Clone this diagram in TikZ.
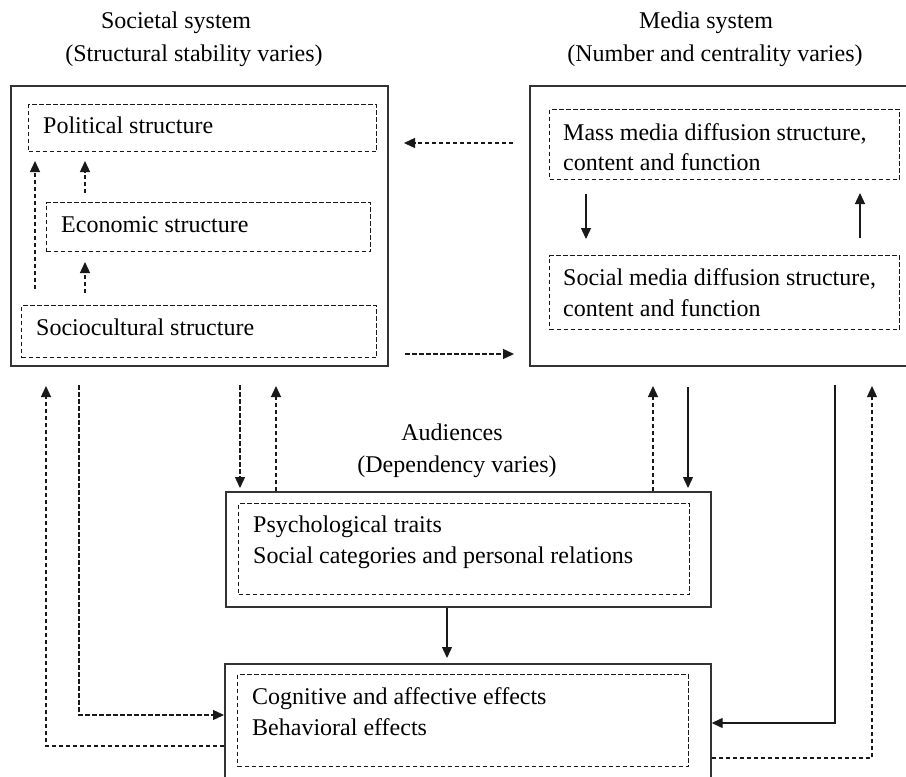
\documentclass[tikz,border=0pt]{standalone}
\usepackage{fontspec}
\setmainfont{Liberation Serif}
\usetikzlibrary{arrows.meta}
\begin{document}
\begin{tikzpicture}[x=1pt,y=-1pt,
  txt/.style={inner sep=0pt, anchor=base west, font=\fontsize{24}{30}\selectfont},
  ttl/.style={inner sep=0pt, anchor=base, font=\fontsize{24}{30}\selectfont},
  outerbox/.style={draw=black!80, line width=1.7pt, inner sep=0pt, anchor=north west},
  dbox/.style={draw=black!90, line width=1.3pt, dash pattern=on 4.5pt off 2.5pt, inner sep=0pt, anchor=north west},
  conn/.style={draw=black!90, line width=1.3pt, -{Triangle[length=11pt,width=10pt]}},
  dconn/.style={conn, dash pattern=on 4.5pt off 2.5pt},
]
\clip (0,0) rectangle (906,777);
\fill[white] (0,0) rectangle (906,777);

% boxes
\node[outerbox, minimum width=377pt, minimum height=280pt] (soc) at (10,85) {};
\node[dbox, minimum width=348pt, minimum height=47pt] (pol) at (28,104) {};
\node[dbox, minimum width=324pt, minimum height=49pt] (eco) at (46,202) {};
\node[dbox, minimum width=355pt, minimum height=52pt] (scu) at (21,305) {};
\node[outerbox, minimum width=400pt, minimum height=280pt] (med) at (529,85) {};
\node[dbox, minimum width=350pt, minimum height=70pt] (mass) at (549,109) {};
\node[dbox, minimum width=350pt, minimum height=74pt] (socm) at (549,255) {};
\node[outerbox, minimum width=485pt, minimum height=115pt] (aud) at (225,491) {};
\node[dbox, minimum width=451pt, minimum height=91pt] (audin) at (238,503) {};
\node[outerbox, minimum width=486pt, minimum height=130pt] (eff) at (224,663) {};
\node[dbox, minimum width=451pt, minimum height=92pt] (effin) at (237,674) {};

% titles
\node[ttl] (t1) at (176,28) {Societal system};
\node[ttl] (t2) at (194,61) {(Structural stability varies)};
\node[ttl] (t3) at (706,28) {Media system};
\node[ttl] (t4) at (715,61) {(Number and centrality varies)};
\node[ttl] (t5) at (452,440) {Audiences};
\node[ttl] (t6) at (457,472) {(Dependency varies)};

% texts
\node[txt] (p) at (43,133) {Political structure};
\node[txt] (e) at (61,232) {Economic structure};
\node[txt] (s) at (36,335) {Sociocultural structure};
\node[txt] (m1) at (563,140) {Mass media diffusion structure,};
\node[txt] (m2) at (563,170) {content and function};
\node[txt] (sm1) at (563,285) {Social media diffusion structure,};
\node[txt] (sm2) at (563,316) {content and function};
\node[txt] (a1) at (253,532) {Psychological traits};
\node[txt] (a2) at (253,563) {Social categories and personal relations};
\node[txt] (c1) at (252,704) {Cognitive and affective effects};
\node[txt] (c2) at (252,735) {Behavioral effects};

% free ends
\coordinate (k1s) at (35,289);  \coordinate (k1e) at (35,161);
\coordinate (k2s) at (85,193);  \coordinate (k2e) at (85,161);
\coordinate (k3s) at (85,293);  \coordinate (k3e) at (85,262);
\coordinate (k4s) at (513,143); \coordinate (k4e) at (404,143);
\coordinate (k5s) at (405,354); \coordinate (k5e) at (514,354);
\coordinate (k6s) at (586,194); \coordinate (k6e) at (586,239);
\coordinate (k7s) at (860,238); \coordinate (k7e) at (860,193);
\coordinate (k8s) at (240,385); \coordinate (k8e) at (240,488);
\coordinate (k9e) at (276,386);
\coordinate (k10e) at (653,386);
\coordinate (k11s) at (688,387); \coordinate (k11e) at (688,488);
\coordinate (k12s) at (79,385); \coordinate (k12m) at (79,715);
\coordinate (k13m) at (46,746); \coordinate (k13e) at (46,386);
\coordinate (k14s) at (835,385); \coordinate (k14m) at (835,723);
\coordinate (k15m) at (872,758); \coordinate (k15e) at (872,386);
\coordinate (k16e) at (447,658);

% connectors
\draw[dconn] (k1s) -- (k1e);
\draw[dconn] (k2s) -- (k2e);
\draw[dconn] (k3s) -- (k3e);
\draw[dconn] (k4s) -- (k4e);
\draw[dconn] (k5s) -- (k5e);
\draw[conn] (k6s) -- (k6e);
\draw[conn] (k7s) -- (k7e);
\draw[dconn] (k8s) -- (k8e);
\draw[dconn] (aud.north -| k9e) -- (k9e);
\draw[dconn] (aud.north -| k10e) -- (k10e);
\draw[conn] (k11s) -- (k11e);
\draw[conn] (aud.south -| k16e) -- (k16e);
\draw[dconn] (k12s) -- (k12m) -- (k12m -| eff.west);
\draw[dconn] (k13m -| eff.west) -- (k13m) -- (k13e);
\draw[conn] (k14s) -- (k14m) -- (k14m -| eff.east);
\draw[dconn] (k15m -| eff.east) -- (k15m) -- (k15e);
\end{tikzpicture}
\end{document}
